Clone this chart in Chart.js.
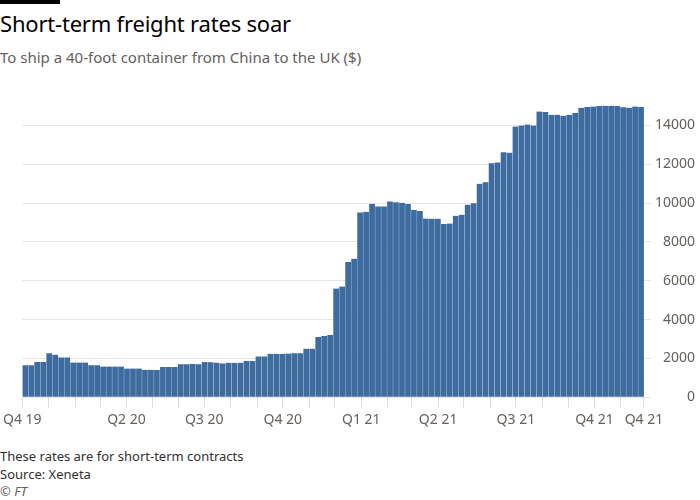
<!DOCTYPE html>
<html>
<head>
<meta charset="utf-8">
<script src="https://cdn.jsdelivr.net/npm/chart.js@4.4.0/dist/chart.umd.min.js"></script>
<style>
  body { margin: 0; width: 700px; height: 500px; background: #fff; position: relative; overflow: hidden; font-family: "Noto Sans", sans-serif; }
  .topbar { position: absolute; left: 0; top: 0; width: 60px; height: 4px; background: #000; }
  h1 { position: absolute; left: 0; top: 8px; margin: 0; font-size: 22px; font-weight: 400; color: #000; letter-spacing: -0.2px; }
  .sub { position: absolute; left: 0; top: 47px; font-size: 15px; color: #66605c; }
  #wrap { position: absolute; left: 0; top: 86px; width: 700px; height: 345px; }
  .foot { position: absolute; left: 0; top: 448px; font-size: 13px; color: #33302e; line-height: 17.5px; }
  .foot i { color: #66605c; }
</style>
</head>
<body>
<div class="topbar"></div>
<h1>Short-term freight rates soar</h1>
<div class="sub">To ship a 40-foot container from China to the UK ($)</div>
<div id="wrap"><canvas id="freightChart"></canvas></div>
<div class="foot">These rates are for short-term contracts<br>Source: Xeneta<br><i>© FT</i></div>

<script>
// weekly rates, first week starting 1 Dec 2019
const startDate = "2019-12-01";
const rates = [
  1650, 1650, 1810, 1810, 2260, 2190, 2050, 2050, 1790, 1790,
  1790, 1650, 1650, 1580, 1580, 1580, 1580, 1480, 1480, 1480,
  1410, 1410, 1400, 1550, 1550, 1550, 1700, 1700, 1710, 1700,
  1810, 1800, 1780, 1740, 1770, 1770, 1780, 1860, 1860, 2100,
  2100, 2240, 2240, 2240, 2250, 2260, 2270, 2500, 2500, 3100,
  3150, 3200, 5600, 5700, 6970, 7140, 9520, 9550, 9970, 9830,
  9830, 10090, 10050, 10020, 9950, 9660, 9600, 9210, 9200, 9200,
  8930, 8950, 9350, 9400, 9920, 10000, 11000, 11070, 12050, 12100,
  12620, 12600, 13950, 14000, 14050, 14000, 14720, 14700, 14550, 14550,
  14500, 14550, 14650, 14910, 14950, 14980, 15000, 15020, 15020, 15000,
  14940, 14920, 14980, 14950
];

// month tick marks on the x axis
const monthTicks = [
  "2019-12-01", "2020-01-01", "2020-02-01", "2020-03-01", "2020-04-01", "2020-05-01",
  "2020-06-01", "2020-07-01", "2020-08-01", "2020-09-01", "2020-10-01", "2020-11-01",
  "2020-12-01", "2021-01-01", "2021-02-01", "2021-03-01", "2021-04-01", "2021-05-01",
  "2021-06-01", "2021-07-01", "2021-08-01", "2021-09-01", "2021-10-01", "2021-11-01",
  "2021-11-28"
];
const quarterLabels = {
  "2019-12-01": "Q4 19",
  "2020-04-01": "Q2 20",
  "2020-07-01": "Q3 20",
  "2020-10-01": "Q4 20",
  "2021-01-01": "Q1 21",
  "2021-04-01": "Q2 21",
  "2021-07-01": "Q3 21",
  "2021-10-01": "Q4 21",
  "2021-11-28": "Q4 21"
};
const yTicks = [0, 2000, 4000, 6000, 8000, 10000, 12000, 14000];

const dayOf = (d) => Math.round((Date.parse(d) - Date.parse(startDate)) / 864e5);
const labelByDay = {};
Object.keys(quarterLabels).forEach((d) => { labelByDay[dayOf(d)] = quarterLabels[d]; });

Chart.defaults.font.family = "'Noto Sans', sans-serif";
Chart.defaults.color = "#66605c";

const ctx = document.getElementById("freightChart").getContext("2d");
new Chart(ctx, {
  type: "bar",
  data: {
    datasets: [
      {
        data: rates.map((v, i) => ({ x: i * 7 + 3.5, y: v })),
        backgroundColor: "#3f6c9f",
        borderColor: "rgba(140,175,215,0.45)",
        borderWidth: { left: 0.6, right: 0, top: 0, bottom: 0 },
        borderSkipped: false,
        barPercentage: 1,
        categoryPercentage: 1,
      },
    ],
  },
  options: {
    responsive: true,
    maintainAspectRatio: false,
    animation: false,
    layout: { padding: { left: 20, right: 5, top: 0, bottom: 0 } },
    plugins: { legend: { display: false }, tooltip: { enabled: false } },
    scales: {
      x: {
        type: "linear",
        offset: false,
        min: 0,
        max: dayOf("2021-11-28"),
        afterBuildTicks: (scale) => {
          scale.ticks = monthTicks.map((d) => ({ value: dayOf(d) }));
        },
        ticks: {
          autoSkip: false,
          maxRotation: 0,
          padding: 3,
          font: { size: 14 },
          color: "#66605c",
          callback: (value) => labelByDay[value] || "",
        },
        grid: { offset: false, drawOnChartArea: false, tickLength: 11, tickColor: "#e3ddd7", lineWidth: 1 },
        border: { display: false },
      },
      y: {
        position: "right",
        min: 0,
        max: 15500,
        z: 1,
        afterBuildTicks: (scale) => {
          scale.ticks = yTicks.map((v) => ({ value: v }));
        },
        ticks: {
          font: { size: 14 },
          color: "#66605c",
          crossAlign: "far",
          padding: 2,
          callback: (value) => String(value),
        },
        grid: { color: "rgba(90,55,20,0.13)", tickLength: 7 },
        border: { display: false },
      },
    },
  },
});
</script>
</body>
</html>
